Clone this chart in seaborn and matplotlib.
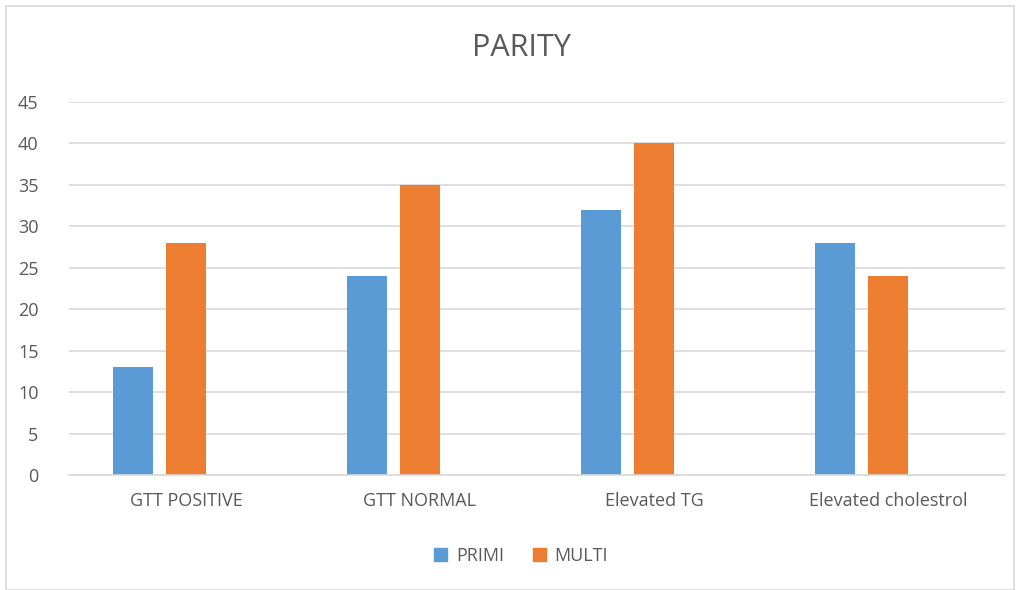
import pandas as pd
import numpy as np
import matplotlib.pyplot as plt
import seaborn as sns
from matplotlib.patches import Rectangle, Patch

categories = ["GTT POSITIVE", "GTT NORMAL", "Elevated TG", "Elevated cholestrol"]
primi = [13, 24, 32, 28]
multi = [28, 35, 40, 24]
# Excel chart kept an empty third series slot
blank = [np.nan, np.nan, np.nan, np.nan]

df = pd.DataFrame({
    "category": categories * 3,
    "series": ["PRIMI"] * 4 + ["MULTI"] * 4 + ["_blank"] * 4,
    "value": primi + multi + blank,
})

sns.set_style("white")
plt.rcParams["font.family"] = ["Open Sans", "DejaVu Sans"]

fig = plt.figure(figsize=(10.2, 5.9), dpi=100)
fig.patches.append(Rectangle((6 / 1020, 0), 1 - 12 / 1020, 1 - 6 / 590,
                             transform=fig.transFigure, fill=False,
                             edgecolor="#d9d9d9", linewidth=1.2))
ax = fig.add_axes([69 / 1020, 1 - 475 / 590, (1005 - 69) / 1020, (475 - 102) / 590])

sns.barplot(data=df, x="category", y="value", hue="series",
            hue_order=["PRIMI", "MULTI", "_blank"],
            palette={"PRIMI": "#5b9bd5", "MULTI": "#ed7d31", "_blank": "#ffffff"},
            width=0.68, gap=0.23, saturation=1, errorbar=None,
            linewidth=0, legend=False, ax=ax)

ax.set_ylim(0, 45)
ax.set_yticks(range(0, 50, 5))
ax.set_xlim(-0.5, 3.5)
ax.yaxis.grid(True, color="#d9d9d9", linewidth=1.2)
ax.set_axisbelow(True)
for s in ["left", "right", "top"]:
    ax.spines[s].set_visible(False)
ax.spines["bottom"].set_color("#d9d9d9")
ax.spines["bottom"].set_linewidth(1.2)
ax.tick_params(axis="both", length=0, labelsize=13, labelcolor="#595959")
ax.tick_params(axis="y", pad=22)
ax.tick_params(axis="x", pad=12)
ax.set_xlabel("")
ax.set_ylabel("")

fig.text(0.511, 1 - 48 / 590, "PARITY", ha="center", va="center",
         fontsize=22, color="#595959")

handles = [Patch(color="#5b9bd5", label="PRIMI"), Patch(color="#ed7d31", label="MULTI")]
fig.legend(handles=handles, loc="center", bbox_to_anchor=(0.511, 1 - 556 / 590),
           ncol=2, frameon=False, fontsize=13, handlelength=0.7, handleheight=0.7,
           handletextpad=0.5, columnspacing=1.6, labelcolor="#595959")

plt.savefig("out.png", dpi=100)
